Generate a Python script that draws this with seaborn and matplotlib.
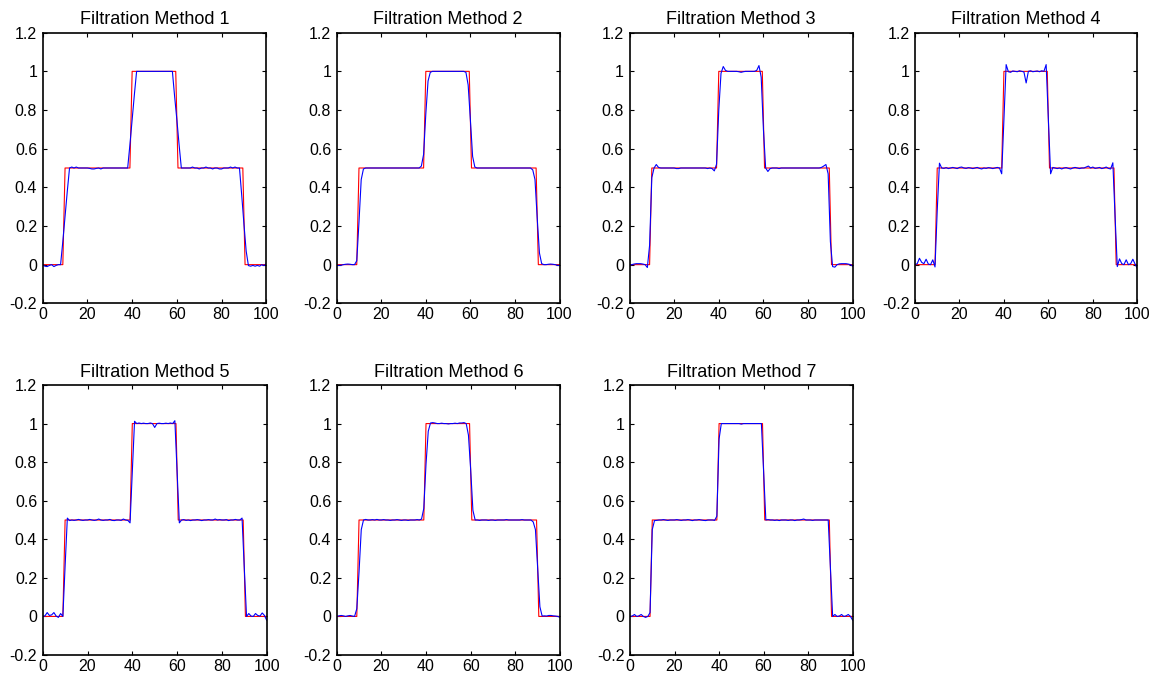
import numpy as np
import matplotlib
matplotlib.use('Agg')
import matplotlib.pyplot as plt
import matplotlib.ticker as ticker
import seaborn as sns

# стиль в духе matplotlib/matlab
sns.set_style('ticks')
plt.rcParams['font.family'] = ['Liberation Sans', 'DejaVu Sans']
plt.rcParams['text.color'] = 'black'

# ось x: отсчёты сигнала
x = np.arange(0, 101)

# исходный (ступенчатый) сигнал: точки излома
red_x = [0, 9, 10, 39, 40, 59.5, 60.5, 89.5, 90.5, 100]
red_y = [0, 0, 0.5, 0.5, 1, 1, 0.5, 0.5, 0, 0]

# результаты фильтрации
m1 = [0.0, -0.008, -0.01, -0.004, 0.0, -0.01, -0.004, 0.0, 0.0, 0.12,
      0.25, 0.38, 0.5, 0.505, 0.5, 0.505, 0.5, 0.5, 0.5, 0.5,
      0.5, 0.498, 0.495, 0.495, 0.498, 0.5, 0.495, 0.5, 0.5, 0.5,
      0.5, 0.5, 0.5, 0.5, 0.5, 0.5, 0.5, 0.5, 0.5, 0.62,
      0.75, 0.88, 1.0, 1.0, 1.0, 1.0, 1.0, 1.0, 1.0, 1.0,
      1.0, 1.0, 1.0, 1.0, 1.0, 1.0, 1.0, 1.0, 1.0, 0.87,
      0.75, 0.62, 0.5, 0.5, 0.5, 0.5, 0.5, 0.505, 0.5, 0.5,
      0.495, 0.5, 0.5, 0.505, 0.5, 0.5, 0.495, 0.5, 0.5, 0.495,
      0.495, 0.5, 0.5, 0.5, 0.505, 0.5, 0.505, 0.5, 0.5, 0.36,
      0.21, 0.07, -0.005, -0.008, -0.004, -0.008, -0.004, -0.008, 0.0, -0.005,
      0.005]

m2 = [-0.005, -0.004, -0.003, 0.0, 0.002, 0.003, 0.002, 0.0, 0.0, 0.02,
      0.22, 0.44, 0.495, 0.5, 0.5, 0.5, 0.5, 0.5, 0.5, 0.5,
      0.5, 0.5, 0.5, 0.5, 0.5, 0.5, 0.5, 0.5, 0.5, 0.5,
      0.5, 0.5, 0.5, 0.5, 0.5, 0.5, 0.5, 0.5, 0.51, 0.57,
      0.78, 0.95, 0.995, 1.0, 1.0, 1.0, 1.0, 1.0, 1.0, 1.0,
      1.0, 1.0, 1.0, 1.0, 1.0, 1.0, 1.0, 1.0, 0.995, 0.93,
      0.75, 0.56, 0.505, 0.5, 0.5, 0.5, 0.5, 0.5, 0.5, 0.5,
      0.5, 0.5, 0.5, 0.5, 0.5, 0.5, 0.5, 0.5, 0.5, 0.5,
      0.5, 0.5, 0.5, 0.5, 0.5, 0.5, 0.5, 0.5, 0.49, 0.44,
      0.24, 0.06, 0.005, 0.0, 0.0, 0.002, 0.003, 0.002, 0.0, -0.003,
      -0.005]

m3 = [-0.005, 0.0, 0.003, 0.005, 0.005, 0.005, 0.003, 0.0, -0.015, 0.1,
      0.45, 0.5, 0.518, 0.503, 0.5, 0.5, 0.5, 0.5, 0.5, 0.5,
      0.5, 0.497, 0.497, 0.5, 0.5, 0.5, 0.5, 0.5, 0.5, 0.5,
      0.5, 0.5, 0.5, 0.5, 0.5, 0.497, 0.5, 0.497, 0.485, 0.52,
      0.8, 0.99, 1.025, 1.005, 1.0, 1.0, 1.0, 1.0, 1.0, 0.998,
      0.995, 0.998, 1.0, 1.0, 1.0, 1.0, 1.0, 1.005, 1.03, 0.97,
      0.7, 0.5, 0.482, 0.497, 0.5, 0.5, 0.5, 0.497, 0.5, 0.5,
      0.5, 0.5, 0.5, 0.5, 0.5, 0.5, 0.5, 0.5, 0.5, 0.5,
      0.5, 0.5, 0.5, 0.5, 0.5, 0.5, 0.503, 0.51, 0.518, 0.47,
      0.12, -0.01, -0.013, 0.0, 0.004, 0.005, 0.005, 0.005, 0.003, 0.0,
      -0.008]

m4 = [0.0, 0.005, 0.033, 0.012, 0.005, 0.028, 0.003, 0.0, 0.025, -0.012,
      0.28, 0.525, 0.5, 0.498, 0.502, 0.497, 0.5, 0.503, 0.5, 0.497,
      0.503, 0.505, 0.5, 0.498, 0.502, 0.5, 0.497, 0.5, 0.503, 0.498,
      0.495, 0.5, 0.498, 0.502, 0.5, 0.497, 0.5, 0.503, 0.5, 0.47,
      0.75, 1.035, 0.998, 0.995, 1.002, 1.0, 0.998, 1.003, 1.0, 0.997,
      0.94, 1.0, 1.003, 0.998, 1.0, 1.002, 0.998, 1.003, 1.0, 1.035,
      0.75, 0.47, 0.503, 0.5, 0.497, 0.5, 0.495, 0.5, 0.502, 0.498,
      0.495, 0.5, 0.503, 0.5, 0.497, 0.5, 0.5, 0.505, 0.51, 0.5,
      0.505, 0.498, 0.5, 0.503, 0.497, 0.5, 0.505, 0.498, 0.495, 0.527,
      0.25, -0.01, 0.03, 0.005, 0.0, 0.025, 0.0, 0.005, 0.028, 0.003,
      -0.02]

m5 = [0.0, 0.003, 0.02, 0.005, 0.008, 0.02, 0.002, -0.005, 0.015, 0.0,
      0.26, 0.51, 0.497, 0.5, 0.498, 0.5, 0.503, 0.5, 0.498, 0.5,
      0.5, 0.503, 0.5, 0.498, 0.5, 0.505, 0.5, 0.498, 0.5, 0.5,
      0.503, 0.498, 0.497, 0.5, 0.5, 0.498, 0.505, 0.5, 0.498, 0.485,
      0.75, 1.012, 1.0, 1.003, 1.0, 1.002, 1.0, 1.0, 1.003, 1.0,
      0.98, 1.0, 1.002, 1.0, 1.0, 1.002, 1.0, 1.003, 1.0, 1.015,
      0.75, 0.485, 0.5, 0.502, 0.498, 0.5, 0.497, 0.5, 0.5, 0.502,
      0.5, 0.497, 0.5, 0.5, 0.502, 0.5, 0.5, 0.505, 0.5, 0.502,
      0.5, 0.5, 0.502, 0.497, 0.5, 0.5, 0.503, 0.5, 0.5, 0.51,
      0.25, 0.0, 0.015, 0.002, 0.0, 0.015, 0.005, 0.002, 0.018, 0.005,
      -0.02]

m6 = [0.0, 0.003, 0.005, 0.003, 0.0, 0.003, 0.005, 0.002, 0.0, 0.04,
      0.23, 0.45, 0.5, 0.503, 0.5, 0.5, 0.502, 0.5, 0.503, 0.5,
      0.5, 0.502, 0.5, 0.5, 0.498, 0.5, 0.5, 0.502, 0.5, 0.498,
      0.5, 0.5, 0.498, 0.5, 0.5, 0.5, 0.502, 0.5, 0.505, 0.56,
      0.79, 0.96, 1.003, 1.005, 1.003, 1.0, 1.0, 1.002, 1.0, 1.0,
      0.998, 1.0, 1.0, 1.002, 1.0, 1.003, 1.003, 1.005, 1.0, 0.94,
      0.76, 0.55, 0.5, 0.5, 0.498, 0.5, 0.5, 0.5, 0.498, 0.5,
      0.5, 0.498, 0.5, 0.5, 0.5, 0.5, 0.502, 0.5, 0.5, 0.5,
      0.5, 0.5, 0.5, 0.502, 0.5, 0.5, 0.5, 0.5, 0.49, 0.45,
      0.25, 0.05, 0.002, 0.003, 0.002, 0.005, 0.005, 0.003, 0.002, 0.0,
      -0.005]

m7 = [0.0, 0.002, 0.01, 0.0, 0.003, 0.01, 0.0, -0.005, 0.0, 0.02,
      0.45, 0.497, 0.498, 0.5, 0.5, 0.502, 0.5, 0.498, 0.5, 0.5,
      0.5, 0.502, 0.5, 0.498, 0.5, 0.5, 0.502, 0.5, 0.497, 0.5,
      0.5, 0.502, 0.5, 0.498, 0.497, 0.5, 0.5, 0.5, 0.498, 0.52,
      0.92, 1.0, 1.0, 1.0, 1.0, 1.0, 1.0, 1.0, 1.0, 1.0,
      0.997, 1.0, 1.0, 1.0, 1.0, 1.0, 1.0, 1.0, 1.0, 1.0,
      0.75, 0.5, 0.502, 0.5, 0.5, 0.498, 0.5, 0.497, 0.5, 0.5,
      0.5, 0.498, 0.5, 0.5, 0.497, 0.5, 0.5, 0.502, 0.505, 0.5,
      0.5, 0.5, 0.498, 0.5, 0.5, 0.5, 0.5, 0.5, 0.5, 0.5,
      0.25, 0.0, 0.01, 0.0, 0.002, 0.01, 0.0, 0.003, 0.01, 0.0,
      -0.02]

methods = [m1, m2, m3, m4, m5, m6, m7]
titles = ['Filtration Method %d' % (i + 1) for i in range(7)]

# положение осей в пикселях (left, top, right, bottom)
W, H = 1157, 678
boxes = [(42.7, 32.7, 266.3, 303.3), (336.7, 32.7, 559.5, 303.3),
         (629.5, 32.7, 852.7, 303.3), (915.0, 32.7, 1137.3, 303.3),
         (42.7, 385.0, 266.7, 655.0), (336.7, 385.0, 560.0, 655.0),
         (630.0, 385.0, 852.7, 655.0)]

fig = plt.figure(figsize=(W / 100, H / 100), dpi=100)

for i, (l, t, r, b) in enumerate(boxes):
    ax = fig.add_axes([l / W, 1 - b / H, (r - l) / W, (b - t) / H])
    sns.lineplot(x=red_x, y=red_y, ax=ax, color='red', linewidth=0.8)
    sns.lineplot(x=x, y=methods[i], ax=ax, color='blue', linewidth=0.8)
    ax.set_xlim(0, 100)
    ax.set_ylim(-0.2, 1.2)
    ax.set_xticks(np.arange(0, 101, 20))
    ax.set_yticks(np.arange(-0.2, 1.21, 0.2))
    ax.yaxis.set_major_formatter(ticker.FuncFormatter(lambda v, pos: '%g' % round(v, 1)))
    ax.xaxis.set_major_formatter(ticker.FuncFormatter(lambda v, pos: '%g' % v))
    ax.tick_params(direction='in', length=3, width=0.8, top=True, right=True,
                   labelsize=11.5, colors='black')
    ax.tick_params(axis='x', pad=3)
    ax.tick_params(axis='y', pad=4)
    for s in ax.spines.values():
        s.set_linewidth(1.2)
        s.set_color('black')
    ax.set_xlabel('')
    ax.set_ylabel('')
    ax.set_title(titles[i], fontsize=13, pad=6, color='black')

plt.savefig('out.png', dpi=100)
